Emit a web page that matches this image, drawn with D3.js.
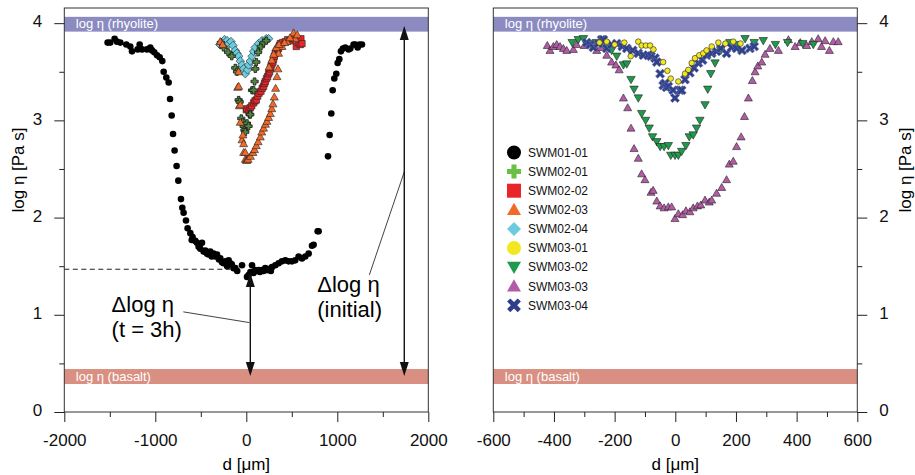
<!DOCTYPE html>
<html><head><meta charset="utf-8">
<script src="https://cdn.jsdelivr.net/npm/d3@7"></script>
<style>body{margin:0;background:#fff} svg{display:block} text{font-family:"Liberation Sans",Arial,sans-serif}</style>
</head><body><svg id="c" width="915" height="475"></svg>
<script>
// ---------------- DATA ----------------
const legendNames = ["SWM01-01","SWM02-01","SWM02-02","SWM02-03","SWM02-04","SWM03-01","SWM03-02","SWM03-03","SWM03-04"];
const xTicksLeft = [-2000,-1000,0,1000,2000];
const xMinorLeft = [-1500,-500,500,1500];
const xTicksRight = [-600,-400,-200,0,200,400,600];
const xMinorRight = [-500,-300,-100,100,300,500];
const yTicks = [0,1,2,3,4];
const yMinor = [0.5,1.5,2.5,3.5];
const rhyoliteBand = [3.913, 4.065];
const basaltBand = [0.288, 0.442];
const dashedLevel = 1.468;

// [d (µm), log viscosity]
const SWM01_01 = [[-1524,3.80],[-1495,3.80],[-1447,3.84],[-1421,3.81],[-1385,3.80],[-1319,3.78],[-1275,3.76],[-1256,3.71],[-1194,3.73],[-1172,3.78],[-1146,3.73],[-1091,3.73],[-1055,3.75],[-1036,3.72],[-1011,3.70],[-981,3.67],[-952,3.65],[-923,3.61],[-908,3.50],[-879,3.44],[-853,3.39],[-838,3.22],[-820,3.05],[-805,2.86],[-788,2.69],[-766,2.53],[-747,2.38],[-718,2.19],[-703,2.10],[-689,2.05],[-663,1.97],[-645,1.89],[-615,1.84],[-600,1.77],[-590,1.80],[-560,1.76],[-542,1.74],[-524,1.70],[-505,1.68],[-487,1.74],[-469,1.65],[-450,1.66],[-432,1.63],[-415,1.62],[-396,1.65],[-380,1.60],[-359,1.63],[-340,1.60],[-322,1.62],[-300,1.57],[-286,1.58],[-267,1.54],[-250,1.53],[-231,1.55],[-210,1.50],[-194,1.56],[-176,1.53],[-160,1.52],[-140,1.48],[-121,1.48],[-100,1.45],[-47,1.51],[8,1.39],[25,1.41],[45,1.44],[63,1.51],[80,1.43],[99,1.46],[120,1.45],[135,1.46],[150,1.44],[173,1.46],[190,1.45],[209,1.48],[230,1.46],[245,1.47],[270,1.45],[282,1.49],[319,1.51],[355,1.53],[392,1.55],[429,1.56],[465,1.55],[502,1.55],[538,1.56],[575,1.60],[612,1.58],[648,1.60],[685,1.63],[722,1.71],[740,1.72],[784,1.86],[795,1.86],[898,2.63],[916,2.85],[934,3.07],[949,3.31],[967,3.43],[989,3.48],[1004,3.59],[1022,3.63],[1040,3.71],[1062,3.74],[1088,3.75],[1124,3.73],[1143,3.74],[1179,3.78],[1198,3.78],[1224,3.75],[1245,3.78],[1271,3.78]];
const SWM02_01 = [[-280,3.80],[-250,3.75],[-200,3.70],[-160,3.66],[-121,3.54],[-102,3.50],[-84,3.21],[-73,3.19],[-55,3.02],[-40,2.98],[-29,2.94],[-20,2.90],[-11,2.88],[7,2.97],[25,2.94],[36,3.06],[44,3.06],[63,3.31],[80,3.31],[91,3.40],[99,3.53],[110,3.60],[130,3.70],[160,3.76],[190,3.80],[220,3.82]];
const SWM02_02 = [[0,3.11],[7,3.12],[30,3.10],[44,3.13],[60,3.15],[80,3.18],[95,3.20],[110,3.21],[125,3.25],[140,3.28],[161,3.30],[175,3.33],[190,3.35],[200,3.38],[209,3.40],[222,3.43],[234,3.45],[245,3.48],[256,3.50],[265,3.53],[271,3.55],[282,3.58],[293,3.60],[300,3.63],[308,3.66],[318,3.69],[330,3.71],[342,3.73],[355,3.74],[365,3.77],[374,3.79],[400,3.80],[429,3.81],[455,3.83],[484,3.82],[510,3.84],[530,3.86],[549,3.76],[570,3.80],[593,3.78],[600,3.84],[612,3.79]];
const SWM02_03 = [[-286,3.81],[-260,3.78],[-95,3.34],[-84,3.50],[-84,3.35],[-77,3.15],[-66,2.98],[-66,3.16],[-47,2.80],[-37,2.85],[-29,2.67],[-29,2.76],[-11,2.67],[-10,2.60],[0,2.59],[8,2.59],[20,2.60],[45,2.63],[73,2.67],[90,2.70],[110,2.74],[130,2.78],[154,2.83],[170,2.88],[190,2.92],[210,2.96],[227,2.99],[245,3.03],[264,3.07],[280,3.12],[293,3.17],[308,3.24],[322,3.33],[337,3.45],[348,3.53],[355,3.69],[392,3.76],[447,3.81],[520,3.90],[538,3.84],[250,3.55],[280,3.62],[300,3.68],[330,3.75],[360,3.78],[420,3.80],[480,3.85],[560,3.88]];
const SWM02_04 = [[-290,3.78],[-267,3.80],[-240,3.83],[-212,3.82],[-190,3.79],[-168,3.81],[-146,3.77],[-121,3.72],[-102,3.69],[-84,3.66],[-66,3.61],[-47,3.57],[-29,3.53],[-11,3.48],[14,3.52],[25,3.57],[44,3.61],[63,3.66],[80,3.71],[99,3.75],[135,3.79],[173,3.82],[220,3.84],[245,3.84]];
const SWM03_01 = [[-250,3.80],[-226,3.81],[-200,3.78],[-168,3.80],[-147,3.66],[-122,3.81],[-111,3.77],[-97,3.77],[-83,3.77],[-72,3.73],[-40,3.60],[-26,3.51],[-15,3.43],[10,3.40],[32,3.48],[43,3.52],[54,3.59],[65,3.64],[79,3.67],[92,3.69],[103,3.72],[120,3.76],[142,3.80],[165,3.79],[191,3.81],[215,3.79]];
const SWM03_02 = [[-340,3.80],[-320,3.83],[-303,3.84],[-285,3.79],[-260,3.80],[-230,3.76],[-210,3.72],[-193,3.66],[-171,3.57],[-160,3.58],[-146,3.42],[-136,3.32],[-122,3.23],[-111,3.07],[-98,3.00],[-86,2.92],[-75,2.83],[-61,2.78],[-50,2.73],[-37,2.73],[-23,2.74],[-15,2.64],[-1,2.64],[10,2.64],[21,2.68],[35,2.74],[46,2.83],[59,2.85],[70,2.92],[81,3.00],[98,3.16],[107,3.32],[117,3.48],[131,3.59],[150,3.72],[180,3.80],[205,3.78],[230,3.84],[260,3.80],[290,3.82],[330,3.78],[370,3.80],[420,3.79],[455,3.78]];
const SWM03_03 = [[-422,3.77],[-413,3.72],[-402,3.76],[-391,3.78],[-380,3.76],[-369,3.74],[-358,3.72],[-336,3.73],[-325,3.78],[-300,3.77],[-270,3.76],[-259,3.72],[-245,3.75],[-226,3.67],[-210,3.60],[-196,3.57],[-185,3.52],[-171,3.23],[-157,3.13],[-146,2.92],[-136,2.71],[-122,2.61],[-111,2.45],[-100,2.39],[-80,2.26],[-73,2.28],[-61,2.17],[-50,2.12],[-37,2.10],[-23,2.11],[-12,2.11],[-1,1.99],[10,2.04],[24,2.03],[35,2.07],[48,2.06],[59,2.10],[73,2.12],[84,2.13],[98,2.18],[112,2.16],[120,2.18],[136,2.25],[153,2.31],[169,2.39],[178,2.55],[191,2.58],[202,2.73],[217,2.83],[228,3.04],[241,3.23],[254,3.41],[263,3.50],[272,3.56],[285,3.60],[296,3.68],[312,3.74],[340,3.72],[373,3.83],[395,3.76],[412,3.80],[433,3.77],[450,3.81],[471,3.84],[482,3.76],[494,3.82],[508,3.72],[521,3.81],[537,3.81]];
const SWM03_04 = [[-292,3.80],[-281,3.78],[-270,3.75],[-254,3.79],[-243,3.83],[-237,3.83],[-226,3.74],[-210,3.78],[-193,3.79],[-175,3.76],[-160,3.74],[-140,3.72],[-122,3.69],[-105,3.67],[-90,3.67],[-80,3.66],[-67,3.64],[-61,3.60],[-50,3.48],[-40,3.36],[-34,3.38],[-29,3.34],[-23,3.35],[-7,3.31],[-1,3.23],[15,3.31],[21,3.31],[32,3.42],[48,3.49],[62,3.54],[76,3.59],[90,3.62],[103,3.67],[120,3.69],[136,3.71],[150,3.74],[169,3.69],[185,3.75],[202,3.74],[220,3.72],[246,3.74],[260,3.76]];

// annotations (data coordinates of the left panel)
const arrowT = {d:44, from:1.43, to:0.37};
const arrowI = {d:1736, from:3.97, to:0.37};

// ---------------- STYLE ----------------
const style = {
  "SWM01-01":{shape:"circle", color:"#000000", s:3.3, ls:7},
  "SWM02-01":{shape:"plus", color:"#4f8a3c", s:3.6, ls:7, lcolor:"#6abf45"},
  "SWM02-02":{shape:"square", color:"#e8262a", s:3.2, ls:7},
  "SWM02-03":{shape:"tri", color:"#f26a2a", s:4, ls:7},
  "SWM02-04":{shape:"diamond", color:"#6ccbdc", s:4.3, ls:7},
  "SWM03-01":{shape:"circle", color:"#f2e81f", s:2.8, ls:7},
  "SWM03-02":{shape:"tridown", color:"#1e9a4a", s:4.2, ls:7},
  "SWM03-03":{shape:"tri", color:"#b35ba6", s:4, ls:7},
  "SWM03-04":{shape:"x", color:"#2f3f8c", s:5, ls:7.5}
};
function shape(t, r){
  switch(t){
    case "circle": return `M${r},0A${r},${r} 0 1,1 ${-r},0A${r},${r} 0 1,1 ${r},0Z`;
    case "square": return `M${-r},${-r}H${r}V${r}H${-r}Z`;
    case "diamond": return `M0,${-r}L${r},0L0,${r}L${-r},0Z`;
    case "tri": return `M0,${-r}L${r},${r*0.75}L${-r},${r*0.75}Z`;
    case "tridown": return `M0,${r}L${r},${-r*0.75}L${-r},${-r*0.75}Z`;
    case "plus": { const a=r, b=r*0.36; return `M${-b},${-a}H${b}V${-b}H${a}V${b}H${b}V${a}H${-b}V${b}H${-a}V${-b}H${-b}Z`; }
    case "x": { const a=r, b=r*0.3; const p=[[-b,-a],[b,-a],[b,-b],[a,-b],[a,b],[b,b],[b,a],[-b,a],[-b,b],[-a,b],[-a,-b],[-b,-b]];
      const c=Math.SQRT1_2; return "M"+p.map(([x,y])=>[(x-y)*c,(x+y)*c].join(",")).join("L")+"Z"; }
  }
}
const fmt = d => String(d);

// ---------------- LAYOUT ----------------
const svg = d3.select("#c");
const y = d3.scaleLinear().domain([0, 4.156]).range([412, 8]);
const xL = d3.scaleLinear().domain([-2000, 2000]).range([64.3, 428.3]);
const xR = d3.scaleLinear().domain([-600, 600]).range([493.3, 857.3]);
const FS = 17;

function panel(x, side){
  const [x0,x1] = x.range();
  const g = svg.append("g");
  g.append("rect").attr("x",x0).attr("width",x1-x0).attr("y",y(rhyoliteBand[1])).attr("height",y(rhyoliteBand[0])-y(rhyoliteBand[1])).attr("fill","#8b8bc1");
  g.append("rect").attr("x",x0).attr("width",x1-x0).attr("y",y(basaltBand[1])).attr("height",y(basaltBand[0])-y(basaltBand[1])).attr("fill","#d98f81");
  g.append("text").attr("x",x0+11.5).attr("y",y(rhyoliteBand[0])-3.5).attr("fill","#fff").attr("font-size",13).text("log η (rhyolite)");
  g.append("text").attr("x",x0+11.5).attr("y",y(basaltBand[0])-3.5).attr("fill","#fff").attr("font-size",13).text("log η (basalt)");
  g.append("rect").attr("x",x0).attr("y",y.range()[1]).attr("width",x1-x0).attr("height",y.range()[0]-y.range()[1]).attr("fill","none").attr("stroke","#333").attr("stroke-width",1);
  const major = side==="left"?xTicksLeft:xTicksRight, minor = side==="left"?xMinorLeft:xMinorRight;
  svg.append("g").attr("transform",`translate(0,${y(0)})`).call(d3.axisBottom(x).tickValues(major).tickSize(10).tickPadding(12).tickFormat(fmt));
  svg.append("g").attr("transform",`translate(0,${y(0)})`).call(d3.axisBottom(x).tickValues(minor).tickSize(5).tickFormat(""));
  const yA = side==="left"?d3.axisLeft(y):d3.axisRight(y);
  const xPos = side==="left"?x0:x1;
  const ay = svg.append("g").attr("transform",`translate(${xPos},0)`).call(yA.tickValues(yTicks).tickSize(10).tickPadding(12).tickFormat(fmt));
  svg.append("g").attr("transform",`translate(${xPos},0)`).call((side==="left"?d3.axisLeft(y):d3.axisRight(y)).tickValues(yMinor).tickSize(5).tickFormat(""));
  ay.selectAll("text").attr("dy","0.22em");
  svg.selectAll(".domain").remove();
  svg.selectAll(".tick line").attr("stroke","#222");
  svg.selectAll(".tick text").attr("font-size",FS).attr("fill","#111").attr("font-family","Liberation Sans, Arial, sans-serif");
  svg.append("text").attr("x",(x0+x1)/2).attr("y",470).attr("text-anchor","middle").attr("font-size",FS).text("d [μm]");
  const tx = side==="left"?24:911;
  svg.append("text").attr("transform",`translate(${tx},170) rotate(-90)`).attr("text-anchor","middle").attr("font-size",FS).text("log η [Pa s]");
  return g;
}

function drawSeries(g, x, name, data){
  const st = style[name];
  g.append("g").selectAll("path").data(data).join("path")
    .attr("transform",d=>`translate(${x(d[0])},${y(d[1])})`)
    .attr("d",shape(st.shape, st.s))
    .attr("fill",st.color)
    .attr("stroke", name==="SWM01-01"?"none":(name==="SWM03-04"?"#6c75a8":"#222"))
    .attr("stroke-width", name==="SWM02-01"?0.9:0.6);
}

const gL = panel(xL,"left");
const gR = panel(xR,"right");

drawSeries(gL,xL,"SWM01-01",SWM01_01);
drawSeries(gL,xL,"SWM02-04",SWM02_04);
drawSeries(gL,xL,"SWM02-02",SWM02_02);
drawSeries(gL,xL,"SWM02-01",SWM02_01);
drawSeries(gL,xL,"SWM02-03",SWM02_03);

drawSeries(gR,xR,"SWM03-03",SWM03_03);
drawSeries(gR,xR,"SWM03-02",SWM03_02);
drawSeries(gR,xR,"SWM03-04",SWM03_04);
drawSeries(gR,xR,"SWM03-01",SWM03_01);

svg.append("line").attr("x1",xL(-2000)).attr("x2",xL(-175)).attr("y1",y(dashedLevel)).attr("y2",y(dashedLevel))
  .attr("stroke","#222").attr("stroke-width",1.1).attr("stroke-dasharray","5,3.5");

function dblArrow(a){
  const X = xL(a.d), y1 = y(a.from), y2 = y(a.to), L=14, W=4.5;
  svg.append("line").attr("x1",X).attr("x2",X).attr("y1",y1+L-2).attr("y2",y2-L+2).attr("stroke","#111").attr("stroke-width",1.4);
  svg.append("path").attr("d",`M${X},${y1}L${X+W},${y1+L}L${X-W},${y1+L}Z`).attr("fill","#111");
  svg.append("path").attr("d",`M${X},${y2}L${X+W},${y2-L}L${X-W},${y2-L}Z`).attr("fill","#111");
}
dblArrow(arrowT); dblArrow(arrowI);
svg.append("line").attr("x1",xL(-692)).attr("y1",y(1.03)).attr("x2",xL(33)).attr("y2",y(0.92)).attr("stroke","#111").attr("stroke-width",0.8);
svg.append("line").attr("x1",xL(1352)).attr("y1",y(1.41)).attr("x2",xL(1736)).attr("y2",y(2.47)).attr("stroke","#111").attr("stroke-width",0.8);
const AF = 22;
svg.append("text").attr("x",xL(-1480)).attr("y",311.5).attr("font-size",AF).text("Δlog η");
svg.append("text").attr("x",xL(-1480)).attr("y",337).attr("font-size",AF).text("(t = 3h)");
svg.append("text").attr("x",xL(780)).attr("y",292).attr("font-size",AF).text("Δlog η");
svg.append("text").attr("x",xL(780)).attr("y",316.5).attr("font-size",AF).text("(initial)");

const lg = svg.append("g");
legendNames.forEach((n,i)=>{
  const st = style[n], cy = 152.5 + i*19.1;
  lg.append("path").attr("transform",`translate(514,${cy})`).attr("d",shape(st.shape, st.ls)).attr("fill",st.lcolor||st.color);
  lg.append("text").attr("x",528).attr("y",cy+4.3).attr("font-size",12).attr("fill","#111").text(n);
});
</script></body></html>
